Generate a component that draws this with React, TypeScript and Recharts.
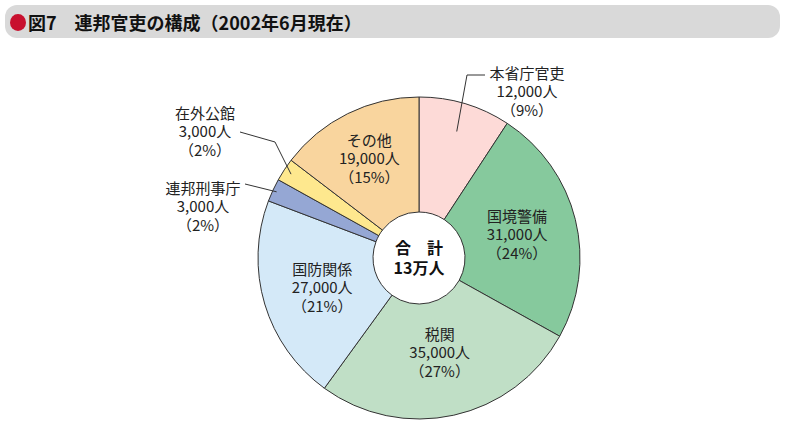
import { PieChart, Pie, Cell } from 'recharts';

const categories = ['本省庁官吏', '国境警備', '税関', '国防関係', '連邦刑事庁', '在外公館', 'その他'];
const staff = [12000, 31000, 35000, 27000, 3000, 3000, 19000];
const colors = ['#FDDAD7', '#86C99D', '#C0DFC6', '#D4E9F8', '#95A7D4', '#FEE88E', '#F9D59E'];

const data = categories.map((name, i) => ({ name, value: staff[i] }));

const RAD = Math.PI / 180;
const FONT = '"Noto Sans CJK JP", "Noto Sans", sans-serif';
const LINE = 18.5;

// where each label sits (offsets from the pie centre)
type Layout =
  | { kind: 'in'; r: number }
  | { kind: 'out'; r: number; text: [number, number]; leader: [number, number][] };

const labelLayout: Record<string, Layout> = {
  本省庁官吏: { kind: 'out', r: 132, text: [108, -186], leader: [[48, -183], [66, -183]] },
  国境警備: { kind: 'in', r: 101 },
  税関: { kind: 'in', r: 96 },
  国防関係: { kind: 'in', r: 101 },
  連邦刑事庁: { kind: 'out', r: 157, text: [-216, -71], leader: [[-174, -74]] },
  在外公館: { kind: 'out', r: 153, text: [-214, -146], leader: [[-144, -116], [-179, -126]] },
  その他: { kind: 'in', r: 112 },
};

const renderLabel = (props: any) => {
  const { cx, cy, midAngle, name, value, percent } = props;
  const lay = labelLayout[name];
  const lines = [name, `${value.toLocaleString('en-US')}人`, `（${Math.round(percent * 100)}%）`];
  const px = (r: number) => cx + r * Math.cos(-midAngle * RAD);
  const py = (r: number) => cy + r * Math.sin(-midAngle * RAD);
  let tx: number;
  let ty: number;
  let leader: JSX.Element | null = null;
  if (lay.kind === 'in') {
    tx = px(lay.r);
    ty = py(lay.r) - LINE;
  } else {
    tx = cx + lay.text[0];
    ty = cy + lay.text[1];
    const pts = [[px(lay.r), py(lay.r)], ...lay.leader.map(([dx, dy]) => [cx + dx, cy + dy])];
    leader = (
      <polyline
        points={pts.map((p) => p.join(',')).join(' ')}
        fill="none"
        stroke="#333"
        strokeWidth={1}
      />
    );
  }
  return (
    <g key={`lbl-${name}`}>
      {leader}
      {lines.map((t, i) => (
        <text
          key={i}
          x={tx}
          y={ty + i * LINE}
          textAnchor="middle"
          dominantBaseline="central"
          fontFamily={FONT}
          fontSize={15}
          fill="#222"
        >
          {t}
        </text>
      ))}
    </g>
  );
};

export default function App() {
  return (
    <div
      style={{
        position: 'absolute',
        left: 0,
        top: 0,
        width: 786,
        height: 423,
        background: '#fff',
        fontFamily: FONT,
      }}
    >
      {/* Title bar */}
      <div
        style={{
          position: 'absolute',
          left: 5,
          top: 5,
          width: 775,
          height: 33,
          borderRadius: 12,
          background: '#D9D9D9',
        }}
      />
      <div
        style={{
          position: 'absolute',
          left: 10,
          top: 14,
          width: 16,
          height: 17,
          borderRadius: '50%',
          background: '#C8102E',
        }}
      />
      <div
        style={{
          position: 'absolute',
          left: 28,
          top: 9,
          fontSize: 18,
          fontWeight: 700,
          color: '#111',
          lineHeight: '26px',
          whiteSpace: 'pre',
        }}
      >
        図7　連邦官吏の構成（2002年6月現在）
      </div>

      <div style={{ position: 'absolute', left: 0, top: 0 }}>
        <PieChart width={786} height={423} margin={{ top: 0, right: 0, bottom: 0, left: 0 }}>
          <Pie
            data={data}
            dataKey="value"
            nameKey="name"
            cx={419}
            cy={258}
            innerRadius={46}
            outerRadius={161}
            startAngle={90}
            endAngle={-270}
            stroke="#333"
            strokeWidth={1}
            label={renderLabel}
            labelLine={false}
            isAnimationActive={false}
          >
            {data.map((_, index) => (
              <Cell key={`cell-${index}`} fill={colors[index]} stroke="#333" strokeWidth={1} />
            ))}
          </Pie>
        </PieChart>
      </div>

      {/* Center Text */}
      <div
        style={{
          position: 'absolute',
          left: 419 - 45,
          top: 258 - 21,
          width: 90,
          textAlign: 'center',
          fontSize: 16,
          fontWeight: 700,
          lineHeight: '20px',
          color: '#111',
        }}
      >
        <div style={{ whiteSpace: 'pre' }}>合　計</div>
        <div>13万人</div>
      </div>
    </div>
  );
}
